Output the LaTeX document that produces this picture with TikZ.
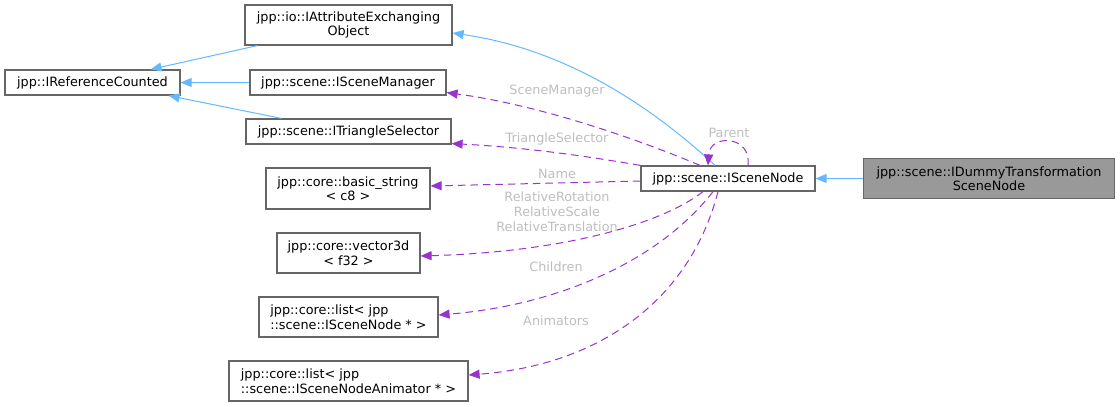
\documentclass[tikz,border=0pt]{standalone}
\usepackage{fontspec}
\setmainfont{DejaVu Sans}
\usetikzlibrary{arrows.meta}
\definecolor{edgeblue}{HTML}{63B8FF}
\definecolor{edgepurple}{HTML}{9A32CD}
\definecolor{boxgrey}{HTML}{666666}
\definecolor{lblgrey}{HTML}{BEBEBE}
\definecolor{curfill}{HTML}{999999}
\begin{document}
\begin{tikzpicture}[x=1pt,y=-1pt,font=\fontsize{12.8}{14.5}\selectfont,
cls/.style={draw=boxgrey,line width=1.2pt,fill=white,inner sep=0pt,align=center,minimum height=40pt},
inh/.style={draw=edgeblue,line width=1pt,-{Triangle[length=11pt,width=9pt,fill=edgeblue]}},
member/.style={draw=edgepurple,line width=1pt,dash pattern=on 7.5pt off 5pt,-{Triangle[length=11pt,width=9pt,fill=edgepurple]}},
lbl/.style={text=lblgrey,align=center,inner sep=0pt,font=\fontsize{12.8}{14.8}\selectfont}]
\useasboundingbox (0,0) rectangle (1120,407);
% classes
\node[cls,minimum width=175pt,minimum height=25pt] (irc) at (92.5,82.5) {jpp::IReferenceCounted};
\node[cls,minimum width=207pt] (iattr) at (348.5,25) {jpp::io::IAttributeExchanging\\Object};
\node[cls,minimum width=196pt,minimum height=25pt] (ism) at (348,82.5) {jpp::scene::ISceneManager};
\node[cls,minimum width=205pt,minimum height=25pt] (its) at (348.5,131.5) {jpp::scene::ITriangleSelector};
\node[cls,minimum width=164pt,minimum height=41pt] (bstr) at (348,188.5) {jpp::core::basic\_string\\< c8 >};
\node[cls,minimum width=143pt] (vec) at (348.5,253) {jpp::core::vector3d\\< f32 >};
\node[cls,minimum width=179pt,align=left] (lnode) at (348.5,317) {jpp::core::list< jpp\\::scene::ISceneNode * >};
\node[cls,minimum width=239pt,align=left] (lanim) at (348.5,381) {jpp::core::list< jpp\\::scene::ISceneNodeAnimator * >};
\node[cls,minimum width=174pt,minimum height=25pt] (isn) at (728,178.5) {jpp::scene::ISceneNode};
\node[cls,minimum width=251pt,fill=curfill] (idummy) at (989,178.5) {jpp::scene::IDummyTransformation\\SceneNode};
% inheritance
\draw[inh] ([xshift=13pt]iattr.south west) -- ([xshift=-30pt]irc.north east);
\draw[inh] (ism.west) -- (irc.east);
\draw[inh] ([xshift=36pt]its.north west) -- ([xshift=-12pt]irc.south east);
\draw[inh] (idummy.west) -- (isn.east);
\draw[inh] ([xshift=-13pt]isn.north) .. controls (655,110) and (570,50) .. ([yshift=-8pt]iattr.east);
% members
\draw[member] ([xshift=-28pt]isn.north) .. controls (640,140) and (540,105) .. ([yshift=3pt]ism.south east);
\draw[member] (isn.north west) .. controls (580,155) and (520,147) .. ([yshift=1pt]its.south east);
\draw[member] ([yshift=-2.5pt]isn.west) -- ([yshift=2.5pt]bstr.east);
\draw[member] ([xshift=-25pt]isn.south) .. controls (660,225) and (560,252) .. ([yshift=-3pt]vec.east);
\draw[member] ([xshift=-15pt]isn.south) .. controls (660,260) and (560,305) .. ([yshift=2pt]lnode.east);
\draw[member] ([xshift=-10pt]isn.south) .. controls (690,300) and (600,365) .. ([yshift=6pt]lanim.east);
\draw[member] ([xshift=20pt]isn.north) .. controls +(4,-30) and +(2,-32) .. ([xshift=-20pt]isn.north);
% labels
\node[lbl] (lsm) at (557,91) {SceneManager};
\node[lbl] (lts) at (557,139) {TriangleSelector};
\node[lbl] (lname) at (557,174) {Name};
\node[lbl] (lrel) at (557,211.5) {RelativeRotation\\RelativeScale\\RelativeTranslation};
\node[lbl] (lchild) at (556,266.5) {Children};
\node[lbl] (lanimr) at (556,321) {Animators};
\node[lbl] (lparent) at (729,133) {Parent};
\end{tikzpicture}
\end{document}
